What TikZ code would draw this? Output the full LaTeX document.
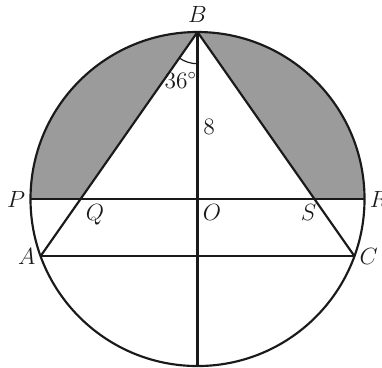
\documentclass[tikz,border=0pt]{standalone}
\usepackage{amsmath,amssymb}
\usepackage{tikz}
\usetikzlibrary{positioning, calc}
\usepackage{xcolor}
\definecolor{Shade}{HTML}{9B9B9B}
\definecolor{Ink}{HTML}{1A1A1A}

\begin{document}
\begin{tikzpicture}[
    every node/.style={font=\large, Ink},
    edge/.style={Ink, line width=1.1pt},
    pt/.style={inner sep=2.5pt}
]
\useasboundingbox (-3.548,-3.018) rectangle (3.314,3.575);

% === Points on the circle ===
\def\rad{3}
\coordinate (O) at (0,0);
\coordinate (B) at (90:\rad);
\coordinate (A) at (200:\rad);
\coordinate (C) at (-20:\rad);
\coordinate (P) at (180:\rad);
\coordinate (R) at (0:\rad);
\coordinate (D) at (270:\rad);
\coordinate (Q) at ({-\rad*tan(35)}, 0);
\coordinate (S) at ({\rad*tan(35)}, 0);

% Shaded segments
\fill[Shade] (P) arc[start angle=180, end angle=90, radius=\rad] -- (Q) -- cycle;
\fill[Shade] (B) arc[start angle=90, end angle=0, radius=\rad] -- (S) -- cycle;

% Circle and chords
\draw[edge] (O) circle (\rad);
\draw[edge] (P) -- (R);
\draw[edge] (A) -- (C);
\draw[edge] (B) -- (A);
\draw[edge] (B) -- (C);
\draw[edge] (B) -- node[pt, right, pos=0.57] {$8$} (O) -- (D);

% Angle at B
\draw[Ink, line width=0.6pt] ($(B)+(235:0.57)$) arc[start angle=235, end angle=270, radius=0.57];
\node (ang) at ($(B)+(251:0.92)$) {$36^\circ$};

% === Labels ===
\node[pt, above=2pt] (lB) at (B) {$B$};
\node[pt, left] (lP) at (P) {$P$};
\node[pt, right] (lR) at (R) {$R$};
\node[pt, left] (lA) at (A) {$A$};
\node[pt, right] (lC) at (C) {$C$};
\node[pt, below right] (lQ) at (Q) {$Q$};
\node[pt, below right] (lO) at (O) {$O$};
\node[pt, below, xshift=-3pt] (lS) at (S) {$S$};

\end{tikzpicture}
\end{document}
